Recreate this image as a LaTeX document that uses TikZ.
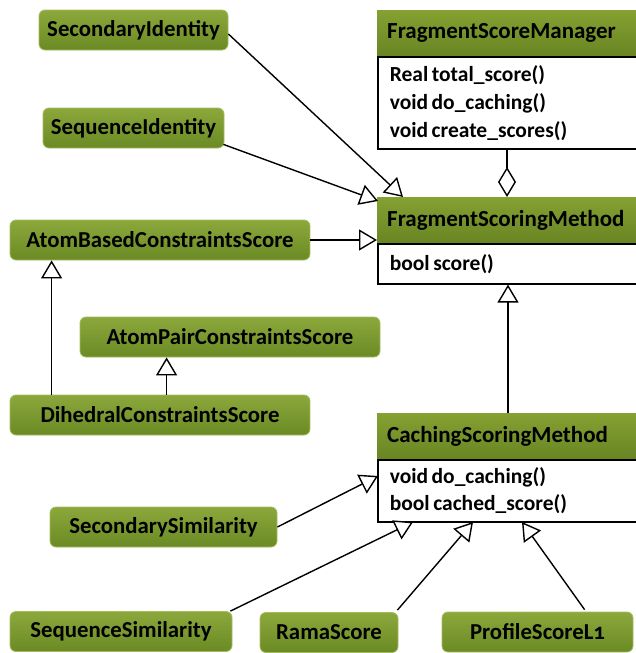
\documentclass[tikz,border=0pt]{standalone}
\usepackage{fontspec}
\setmainfont{Carlito}
\usetikzlibrary{arrows.meta,calc}
\definecolor{gtop}{HTML}{8CA83C}
\definecolor{gbot}{HTML}{6A8A24}
\definecolor{gedge}{HTML}{A3BC5C}
\definecolor{htop}{HTML}{85A132}
\definecolor{hbot}{HTML}{688523}
\newcommand\tightsp{\spaceskip=3.5pt plus 1pt\relax}
\begin{document}
\begin{tikzpicture}[x=1pt,y=-1pt,
  gbox/.style={rectangle, rounded corners=6pt, draw=gedge, line width=0.8pt,
    top color=gtop, bottom color=gbot, text=black,
    font=\bfseries\fontsize{22.8}{24}\selectfont, minimum height=40pt, inner sep=0pt},
  hdr/.style={rectangle, top color=htop, bottom color=hbot,
    anchor=north west, text width=253pt, inner xsep=10pt, inner ysep=0pt, align=left,
    font=\bfseries\fontsize{23}{24}\selectfont, text=black},
  body/.style={rectangle, draw=black, line width=1.6pt, fill=white,
    anchor=north west, text width=251pt, inner xsep=12pt, inner ysep=0pt, align=left,
    font=\bfseries\fontsize{21.5}{28}\selectfont, text=black},
  inh/.style={-{Triangle[open,length=18pt,width=21pt,fill=white]}, line width=1.4pt},
  agg/.style={-{Diamond[open,length=30pt,width=18pt,fill=white]}, line width=1.4pt}
]
\useasboundingbox (0,0) rectangle (635,653);

% class boxes
\node[hdr, minimum height=46pt] (FSMh) at (377,10) {FragmentScoreManager};
\node[body, minimum height=92pt] (FSMb) at (377,56) {\tightsp Real total\_score()\\void do\_caching()\\void create\_scores()};

\node[hdr, minimum height=46pt] (FMh) at (377,197) {FragmentScoringMethod};
\node[body, minimum height=40pt] (FMb) at (377,243) {\tightsp bool score()};

\node[hdr, minimum height=46pt] (CSh) at (377,413) {CachingScoringMethod};
\node[body, minimum height=62pt, font=\bfseries\fontsize{21.5}{27}\selectfont] (CSb) at (377,459) {\tightsp void do\_caching()\\bool cached\_score()};

% green boxes
\node[gbox, minimum width=189pt] (SI)  at (133.5,30) {SecondaryIdentity};
\node[gbox, minimum width=181pt] (QI)  at (133.5,128) {SequenceIdentity};
\node[gbox, minimum width=300pt] (ABC) at (160,240) {AtomBasedConstraintsScore};
\node[gbox, minimum width=300pt] (APC) at (230,337) {AtomPairConstraintsScore};
\node[gbox, minimum width=300pt] (DCS) at (160,415) {DihedralConstraintsScore};
\node[gbox, minimum width=227pt] (SS)  at (163.5,527) {SecondarySimilarity};
\node[gbox, minimum width=222pt] (QS)  at (121,631.5) {SequenceSimilarity};
\node[gbox, minimum width=138pt] (RS)  at (329,632.5) {RamaScore};
\node[gbox, minimum width=191pt] (PS)  at (537.5,632) {ProfileScoreL{\addfontfeatures{Numbers=OldStyle}1}};

% target / source coordinates
\coordinate (t1) at (403,197);
\coordinate (t2) at (378,201);
\coordinate (t3) at (378,476);
\coordinate (t4) at (413,522);
\coordinate (t5) at (473,522);
\coordinate (t6) at (522,522);
\coordinate (d1) at ($(DCS.north west)+(42,0)$);
\coordinate (d2) at ($(DCS.north west)+(157,0)$);
\coordinate (m1) at ($(FSMb.south west)+(130,0)$);
\coordinate (c1) at ($(CSh.north west)+(131,0)$);

% connectors
\draw[agg] (m1) -- (m1 |- FMh.north);
\draw[inh] (c1) -- (c1 |- FMb.south);
\draw[inh] ($(SI.east)+(0,4)$) -- (t1);
\draw[inh] ($(QI.south east)+(-1,-4)$) -- (t2);
\draw[inh] (ABC.east) -- (ABC.east -| FMh.west);
\draw[inh] (d1) -- (d1 |- ABC.south);
\draw[inh] (d2) -- (d2 |- APC.south);
\draw[inh] (SS.east) -- (t3);
\draw[inh] ($(QS.north east)+(-2,0)$) -- (t4);
\draw[inh] ($(RS.north east)+(-1,-2)$) -- (t5);
\draw[inh] ($(PS.north west)+(143,-2)$) -- (t6);
\end{tikzpicture}
\end{document}
